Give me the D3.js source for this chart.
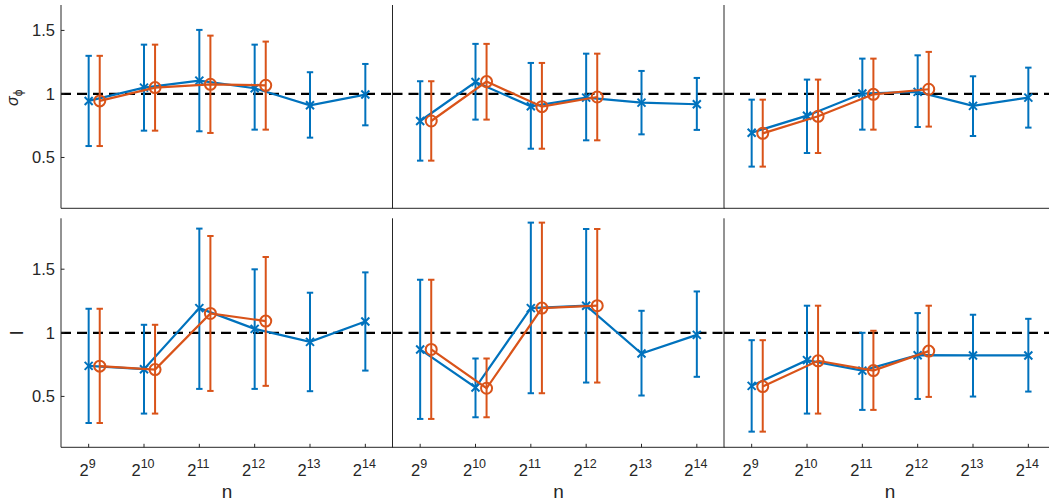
<!DOCTYPE html>
<html>
<head>
<meta charset="utf-8">
<script src="https://cdn.jsdelivr.net/npm/d3@7"></script>
<style>
  html, body { margin: 0; padding: 0; background: #fff; }
  svg { display: block; font-family: "Liberation Sans", Arial, sans-serif; }
</style>
</head>
<body>
<svg id="chart" width="1049" height="502"></svg>
<script>
// ---- data ----
const exponents = [9, 10, 11, 12, 13, 14];
const yTicks = [0.5, 1, 1.5];
const refValue = 1;

// top row (sigma_phi)
const topLeftBlue     = [0.945, 1.05, 1.105, 1.045, 0.911, 0.995];
const topLeftBlueLo   = [0.59, 0.711, 0.706, 0.719, 0.656, 0.753];
const topLeftBlueHi   = [1.30, 1.388, 1.504, 1.388, 1.171, 1.236];
const topLeftOrange   = [0.945, 1.05, 1.076, 1.068];
const topLeftOrangeLo = [0.59, 0.711, 0.693, 0.719];
const topLeftOrangeHi = [1.30, 1.388, 1.459, 1.412];

const topMidBlue     = [0.787, 1.094, 0.903, 0.971, 0.932, 0.919];
const topMidBlueLo   = [0.475, 0.798, 0.569, 0.635, 0.682, 0.717];
const topMidBlueHi   = [1.10, 1.394, 1.244, 1.317, 1.181, 1.126];
const topMidOrange   = [0.787, 1.097, 0.90, 0.976];
const topMidOrangeLo = [0.475, 0.798, 0.569, 0.635];
const topMidOrangeHi = [1.10, 1.394, 1.244, 1.317];

const topRightBlue     = [0.695, 0.829, 1.003, 1.016, 0.906, 0.971];
const topRightBlueLo   = [0.428, 0.535, 0.719, 0.74, 0.669, 0.735];
const topRightBlueHi   = [0.955, 1.113, 1.278, 1.304, 1.139, 1.207];
const topRightOrange   = [0.69, 0.824, 0.997, 1.037];
const topRightOrangeLo = [0.428, 0.535, 0.719, 0.743];
const topRightOrangeHi = [0.955, 1.113, 1.278, 1.331];

// bottom row (l)
const botLeftBlue     = [0.74, 0.714, 1.194, 1.031, 0.929, 1.089];
const botLeftBlueLo   = [0.291, 0.365, 0.559, 0.559, 0.541, 0.703];
const botLeftBlueHi   = [1.189, 1.063, 1.819, 1.499, 1.315, 1.475];
const botLeftOrange   = [0.738, 0.711, 1.152, 1.092];
const botLeftOrangeLo = [0.291, 0.365, 0.543, 0.583];
const botLeftOrangeHi = [1.189, 1.063, 1.761, 1.596];

const botMidBlue     = [0.869, 0.57, 1.194, 1.213, 0.837, 0.984];
const botMidBlueLo   = [0.323, 0.336, 0.525, 0.609, 0.507, 0.654];
const botMidBlueHi   = [1.417, 0.798, 1.866, 1.816, 1.173, 1.325];
const botMidOrange   = [0.869, 0.564, 1.194, 1.213];
const botMidOrangeLo = [0.323, 0.336, 0.525, 0.609];
const botMidOrangeHi = [1.417, 0.798, 1.866, 1.816];

const botRightBlue     = [0.583, 0.785, 0.703, 0.824, 0.822, 0.822];
const botRightBlueLo   = [0.223, 0.365, 0.394, 0.48, 0.499, 0.538];
const botRightBlueHi   = [0.942, 1.213, 1.0, 1.155, 1.142, 1.11];
const botRightOrange   = [0.577, 0.78, 0.703, 0.856];
const botRightOrangeLo = [0.223, 0.365, 0.394, 0.496];
const botRightOrangeHi = [0.942, 1.213, 1.016, 1.213];

// ---- layout ----
const svg = d3.select("#chart");
const blue = "#0072BD", orange = "#D95319", axisColor = "#262626";
const panelLeft = [61, 392.5, 724];
const panelW = 332;
const rows = [
  { top: 5, bottom: 208.3, domain: [0.1, 1.7], label: "sigma", showX: false },
  { top: 218.3, bottom: 447.3, domain: [0.1, 1.9], label: "l", showX: true }
];
const panels = [
  [
    [topLeftBlue, topLeftBlueLo, topLeftBlueHi, topLeftOrange, topLeftOrangeLo, topLeftOrangeHi],
    [topMidBlue, topMidBlueLo, topMidBlueHi, topMidOrange, topMidOrangeLo, topMidOrangeHi],
    [topRightBlue, topRightBlueLo, topRightBlueHi, topRightOrange, topRightOrangeLo, topRightOrangeHi]
  ],
  [
    [botLeftBlue, botLeftBlueLo, botLeftBlueHi, botLeftOrange, botLeftOrangeLo, botLeftOrangeHi],
    [botMidBlue, botMidBlueLo, botMidBlueHi, botMidOrange, botMidOrangeLo, botMidOrangeHi],
    [botRightBlue, botRightBlueLo, botRightBlueHi, botRightOrange, botRightOrangeLo, botRightOrangeHi]
  ]
];
const orangeShift = 0.2;

rows.forEach((row, ri) => {
  const y = d3.scaleLinear().domain(row.domain).range([row.bottom, row.top]);
  panelLeft.forEach((px, ci) => {
    const x = d3.scaleLinear().domain([8.5, 14.5]).range([px, px + panelW]);
    const g = svg.append("g");
    const [bm, blo, bhi, om, olo, ohi] = panels[ri][ci];

    // reference dashed line
    g.append("line")
      .attr("x1", x(8.5)).attr("x2", x(14.5))
      .attr("y1", y(refValue)).attr("y2", y(refValue))
      .attr("stroke", "#000").attr("stroke-width", 2.2)
      .attr("stroke-dasharray", "10,6");

    const drawSeries = (means, lo, hi, shift, color, marker) => {
      const pts = means.map((m, i) => ({ xv: exponents[i] + shift, m, lo: lo[i], hi: hi[i] }));
      const sg = g.append("g");
      pts.forEach(p => {
        const cx = x(p.xv);
        sg.append("line").attr("x1", cx).attr("x2", cx)
          .attr("y1", y(p.lo)).attr("y2", y(p.hi))
          .attr("stroke", color).attr("stroke-width", 2);
        [p.lo, p.hi].forEach(v => {
          sg.append("line").attr("x1", cx - 3.2).attr("x2", cx + 3.2)
            .attr("y1", y(v)).attr("y2", y(v))
            .attr("stroke", color).attr("stroke-width", 2);
        });
      });
      sg.append("path")
        .attr("d", d3.line().x(p => x(p.xv)).y(p => y(p.m))(pts))
        .attr("fill", "none").attr("stroke", color).attr("stroke-width", 2.2);
      pts.forEach(p => {
        const cx = x(p.xv), cy = y(p.m);
        if (marker === "x") {
          const s = 4;
          sg.append("path")
            .attr("d", `M${cx - s},${cy - s}L${cx + s},${cy + s}M${cx - s},${cy + s}L${cx + s},${cy - s}`)
            .attr("stroke", color).attr("stroke-width", 2).attr("fill", "none");
        } else {
          sg.append("circle").attr("cx", cx).attr("cy", cy).attr("r", 5.5)
            .attr("fill", "none").attr("stroke", color).attr("stroke-width", 2);
        }
      });
    };
    drawSeries(bm, blo, bhi, 0, blue, "x");
    drawSeries(om, olo, ohi, orangeShift, orange, "o");

    g.append("line").attr("x1", px).attr("x2", px)
      .attr("y1", row.top).attr("y2", row.bottom)
      .attr("stroke", axisColor).attr("stroke-width", 1);
    g.append("line").attr("x1", px).attr("x2", px + panelW)
      .attr("y1", row.bottom).attr("y2", row.bottom)
      .attr("stroke", axisColor).attr("stroke-width", 1);

    if (ci === 0) {
      yTicks.forEach(t => {
        g.append("line").attr("x1", px).attr("x2", px + 3.5)
          .attr("y1", y(t)).attr("y2", y(t))
          .attr("stroke", axisColor).attr("stroke-width", 1);
        g.append("text").attr("x", px - 6).attr("y", y(t))
          .attr("dy", "0.36em").attr("text-anchor", "end")
          .attr("font-size", 16.5).attr("fill", axisColor)
          .text(d3.format("")(t));
      });
    }
    if (row.showX) {
      exponents.forEach(e => {
        g.append("line").attr("x1", x(e)).attr("x2", x(e))
          .attr("y1", row.bottom).attr("y2", row.bottom - 3.5)
          .attr("stroke", axisColor).attr("stroke-width", 1);
        const t = g.append("text").attr("x", x(e) - 1).attr("y", 476)
          .attr("text-anchor", "middle").attr("fill", axisColor).attr("font-size", 16.5);
        t.append("tspan").text("2");
        t.append("tspan").attr("dy", -8).attr("font-size", 12.5).text(e);
      });
      g.append("text").attr("x", px + panelW / 2).attr("y", 498)
        .attr("text-anchor", "middle").attr("fill", axisColor).attr("font-size", 19)
        .text("n");
    }
  });

  if (row.label === "sigma") {
    const t = svg.append("text")
      .attr("transform", `translate(18,106) rotate(-90)`)
      .attr("fill", axisColor).attr("font-size", 16);
    t.append("tspan").attr("font-style", "italic").text("σ");
    t.append("tspan").attr("dy", 4).attr("font-size", 12).text("ϕ");
  } else {
    svg.append("text")
      .attr("transform", `translate(23,333) rotate(-90)`)
      .attr("text-anchor", "middle")
      .attr("fill", axisColor).attr("font-size", 19)
      .text("l");
  }
});
</script>
</body>
</html>
